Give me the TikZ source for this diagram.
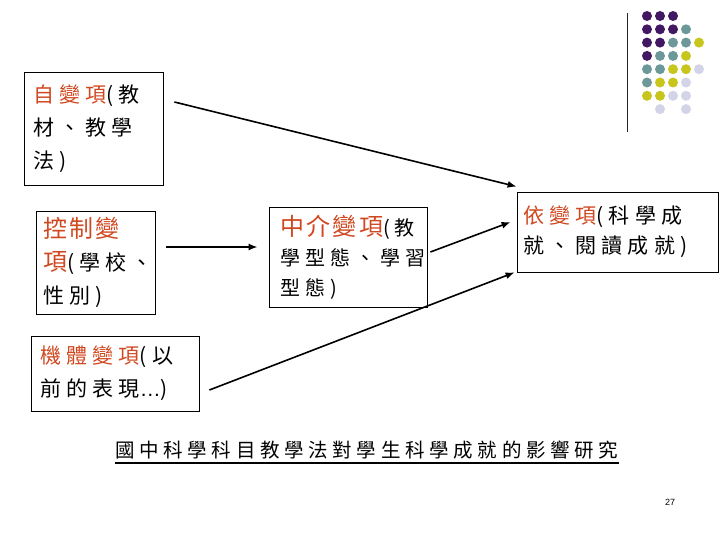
\documentclass[tikz,border=0pt]{standalone}
\usepackage{fontspec}
\usepackage{xcolor}
\usepackage{tikz}
\usetikzlibrary{arrows.meta, positioning, calc}
\newfontfamily\cjk[LetterSpace=25]{Noto Sans CJK TC}
\newfontfamily\cjkred[LetterSpace=10]{Noto Sans CJK TC}
\newfontfamily\cjktitle[LetterSpace=24]{Noto Sans CJK TC}
\newfontfamily\pgfont{Liberation Sans}
\definecolor{varred}{RGB}{208,72,32}
\definecolor{dotpurple}{RGB}{66,24,98}
\definecolor{dotteal}{RGB}{108,152,154}
\definecolor{dotyellow}{RGB}{200,198,28}
\definecolor{dotlilac}{RGB}{212,212,232}
\newcommand{\rv}[1]{{\color{varred}#1}}
\newcommand{\rvbig}[1]{{\cjkred\fontsize{24}{24}\selectfont\color{varred}#1}}
\tikzset{
    varbox/.style={rectangle, draw, line width=0.8pt, align=left, inner xsep=9pt, inner ysep=0pt, font=\cjk\fontsize{21}{33}\selectfont},
    arrow/.style={-{Latex[length=9pt, width=7pt]}, line width=1.6pt},
    heading/.style={inner sep=0pt, font=\cjktitle\fontsize{19.5}{19.5}\selectfont},
}

\begin{document}
\begin{tikzpicture}[x=1pt, y=-1pt]
    \fill[white] (0,0) rectangle (720,540);
    \useasboundingbox (0,0) rectangle (720,540);

    \node[varbox, text width=121pt, minimum height=113pt] (indep) at (93.5,128.5) {\rv{自變項}(教\\材、教學\\法)};

    \node[varbox, inner xsep=7pt, text width=105pt, minimum height=103pt] (ctrl) at (95.5,262.5) {\rvbig{控制變}\\\rvbig{項}(學校、\\性別)};

    \node[varbox, text width=150pt, minimum height=75pt] (organism) at (115,373.5) {\rv{機體變項}(以\\前的表現{\pgfont …})};

    \node[varbox, inner xsep=11pt, text width=136pt, minimum height=100pt, font=\cjk\fontsize{20}{30}\selectfont] (med) at (348,257) {\rvbig{中介變項}(教\\學型態、學習\\型態)};

    \node[varbox, inner xsep=6pt, text width=189pt, minimum height=80pt, font=\cjk\fontsize{21}{30}\selectfont] (dep) at (617.5,232) {\rv{依變項}(科學成\\就、閱讀成就)};

    \node[heading, anchor=base west] (title) at (115,457) {國中科學科目教學法對學生科學成就的影響研究};
    \draw[line width=2.5pt] ([yshift=-6pt]title.base west) -- ([yshift=-6pt]title.base east);

    \node[font=\pgfont\fontsize{9}{9}\selectfont] (pagenum) at (670,502) {27};

    \draw[arrow] ([xshift=11pt, yshift=26.5pt]indep.east) -- ([yshift=5pt]dep.north west);
    \draw[arrow] ([xshift=11pt, yshift=15.5pt]ctrl.east) -- ([xshift=-11pt, yshift=10pt]med.west);
    \draw[arrow] ([xshift=3pt, yshift=5pt]med.east) -- ([xshift=-6pt, yshift=10pt]dep.west);
    \draw[arrow] ([xshift=10pt, yshift=-16.5pt]organism.east) -- ([xshift=-2pt]dep.south west);

    % corner ornament
    \draw[line width=1pt, black!85] (627,13) -- (627,132);
    \foreach \c/\r in {0/0,1/0,2/0,0/1,1/1,2/1,0/2,1/2,0/3}
        \fill[dotpurple] (647+13*\c, 16+13.3*\r) circle (5);
    \foreach \c/\r in {3/1,2/2,3/2,1/3,2/3,0/4,1/4,0/5}
        \fill[dotteal] (647+13*\c, 16+13.3*\r) circle (5);
    \foreach \c/\r in {4/2,3/3,2/4,3/4,1/5,2/5,0/6,1/6}
        \fill[dotyellow] (647+13*\c, 16+13.3*\r) circle (5);
    \foreach \c/\r in {4/4,3/5,2/6,3/6,1/7,3/7}
        \fill[dotlilac] (647+13*\c, 16+13.3*\r) circle (5);
\end{tikzpicture}
\end{document}
